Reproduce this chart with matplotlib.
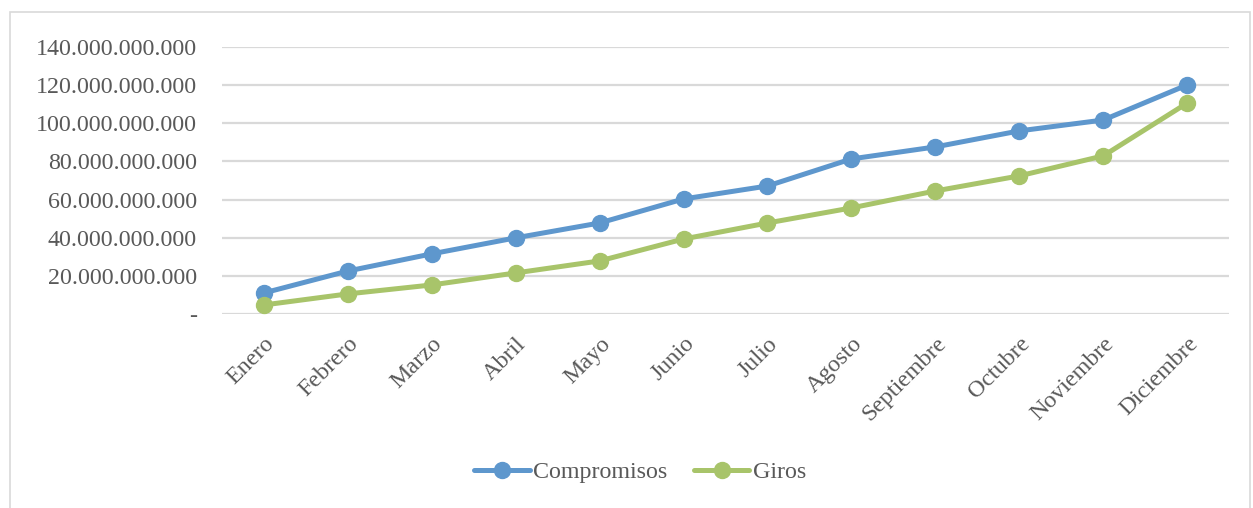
import matplotlib.pyplot as plt
from matplotlib.ticker import FuncFormatter
from matplotlib.patches import Rectangle

meses = ["Enero", "Febrero", "Marzo", "Abril", "Mayo", "Junio", "Julio",
         "Agosto", "Septiembre", "Octubre", "Noviembre", "Diciembre"]
compromisos = [11.0e9, 22.5e9, 31.5e9, 39.9e9, 47.7e9, 60.3e9, 67.1e9,
               81.3e9, 87.6e9, 96.0e9, 101.7e9, 120.1e9]
giros = [4.7e9, 10.5e9, 15.2e9, 21.5e9, 27.8e9, 39.3e9, 47.7e9,
         55.6e9, 64.5e9, 72.4e9, 82.9e9, 110.6e9]

plt.rcParams['font.family'] = ['Liberation Serif', 'DejaVu Serif']

fig = plt.figure(figsize=(12.53, 5.08), dpi=100)
ax = fig.add_axes([0.177, 0.382, 0.804, 0.5255])

x = range(len(meses))
ax.plot(x, compromisos, color="#5E97CD", lw=3.6, marker="o", ms=11.5,
        label="Compromisos", solid_capstyle="round")
ax.plot(x, giros, color="#A8C46A", lw=3.6, marker="o", ms=11.5,
        label="Giros", solid_capstyle="round")

ax.set_xlim(-0.5, len(meses) - 0.5)
ax.set_ylim(0, 140e9)
ax.set_yticks([i * 20e9 for i in range(8)])


def fmt(v, pos):
    if v == 0:
        return "-"
    return f"{v:,.0f}".replace(",", ".")


ax.yaxis.set_major_formatter(FuncFormatter(fmt))
ax.grid(axis="y", color="#D9D9D9", lw=1.6)
ax.set_axisbelow(True)
for s in ax.spines.values():
    s.set_visible(False)
ax.tick_params(axis="both", length=0, labelsize=17.3, colors="#595959")
ax.tick_params(axis="y", pad=18)
ax.set_xticks(list(x))
ax.set_xticklabels(meses, rotation=45, ha="right", rotation_mode="anchor")
ax.tick_params(axis="x", pad=14)

leg = fig.legend(loc="center", bbox_to_anchor=(0.511, 0.07), ncol=2,
                 frameon=False, fontsize=17.3, handlelength=2.3,
                 columnspacing=1.1, handletextpad=0.15, labelcolor="#595959")

# marco del grafico
fig.patches.append(Rectangle((0.008, -0.01), 0.99, 0.986, transform=fig.transFigure,
                             fill=False, edgecolor="#D9D9D9", lw=1.2))

fig.savefig("out.png", dpi=100)
